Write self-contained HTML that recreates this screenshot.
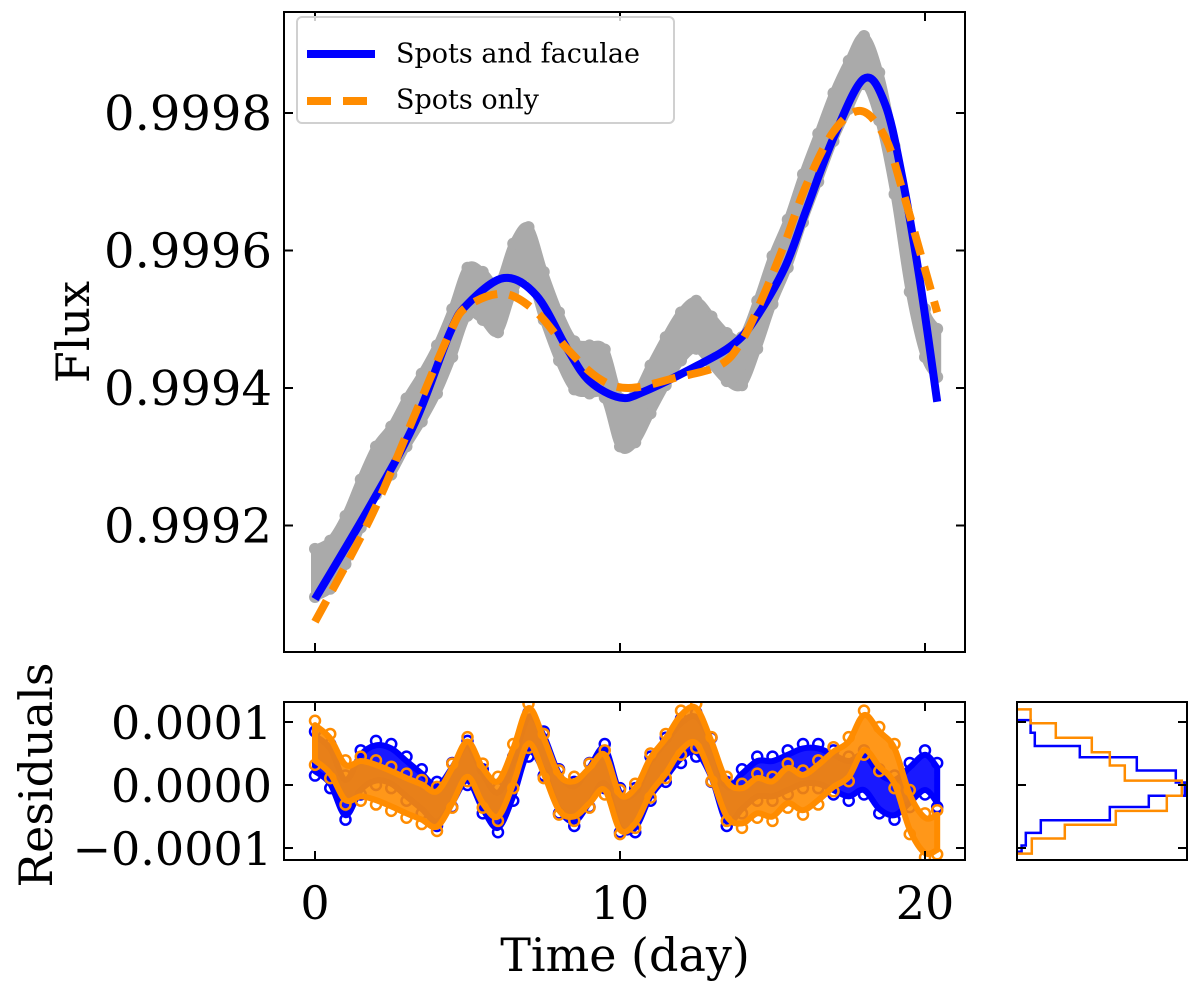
<!DOCTYPE html>
<html><head><meta charset="utf-8"><style>
html,body{margin:0;padding:0;background:#fff;}
svg{display:block;font-family:"DejaVu Serif","Liberation Serif",serif;}
</style></head><body>
<svg id="chart" width="1200" height="982" viewBox="0 0 1200 982" xmlns="http://www.w3.org/2000/svg">
<g id="main"></g>
<g id="resid"></g>
<g id="hist"></g>
</svg>
<script>
// ---------- data ----------
const grayTimes = [0,0.5,1,1.5,2,2.5,3,3.5,4,4.5,5,5.5,6,6.5,7,7.5,8,8.5,9,9.5,10,10.5,11,11.5,12,12.5,13,13.5,14,14.5,15,15.5,16,16.5,17,17.5,18,18.5,19,19.5,20,20.4];
const grayFlux = [0.999131,0.999143,0.999179,0.999232,0.99928,0.999309,0.99935,0.999386,0.999427,0.99948,0.99954,0.999534,0.999516,0.999575,0.999599,0.999534,0.999475,0.999433,0.999427,0.999421,0.99935,0.999356,0.999398,0.999439,0.999475,0.999492,0.999469,0.999445,0.999439,0.999492,0.999557,0.99961,0.999676,0.999735,0.999794,0.999841,0.999877,0.999824,0.999717,0.999575,0.99948,0.999451];
const graySpread = 0.000035;
const blueTimes = [0,1.85,3.28,4.42,5,6.2,7.27,8.27,9,10,10.8,12.55,13.7,14.4,15.4,16.1,17,18,18.7,19.26,19.83,20.4];
const blueFlux = [0.999093,0.999232,0.99935,0.99948,0.999522,0.99956,0.999534,0.999457,0.99941,0.999386,0.999395,0.999433,0.999463,0.999498,0.999575,0.999658,0.999764,0.99985,0.999812,0.999705,0.999557,0.99938];
const orangeTimes = [0,1.85,3.28,4.42,5,6.2,7.27,8.27,9.27,10.27,11.84,13.27,14,14.7,15.4,16.1,17,17.9,18.7,19.26,19.83,20.4];
const orangeFlux = [0.99906,0.999214,0.999362,0.99948,0.999519,0.999537,0.99951,0.999457,0.999415,0.9994,0.999415,0.999433,0.999469,0.999534,0.99961,0.999694,0.999773,0.999803,0.999764,0.999688,0.999599,0.99951];
const residTimes = grayTimes;
const residOrange = [0.67,0.46,0.04,0.1,0.04,-0.06,-0.17,-0.27,-0.38,-0.01,0.41,-0.01,-0.22,0.3,0.94,0.46,-0.12,-0.22,-0.01,0.2,-0.43,-0.33,0.15,0.46,0.83,0.94,0.41,-0.22,-0.33,-0.17,-0.22,-0.01,-0.12,0.04,0.25,0.41,0.83,0.57,0.3,-0.43,-0.8,-0.75]; // x1e-4
const residBlue = [0.5,0.3,-0.2,0.2,0.35,0.3,0.1,-0.1,-0.3,0,0.35,-0.1,-0.4,0.1,0.8,0.5,-0.1,-0.3,0,0.3,-0.4,-0.4,0.1,0.4,0.7,0.8,0.4,-0.3,-0.1,0.1,0.1,0.2,0.3,0.3,0.2,0.1,0.2,-0.1,-0.2,0,0.2,0]; // x1e-4
const residSpread = 0.28;
const histBlueEdges = [1.03,0.83,0.62,0.44,0.23,0.04,-0.17,-0.35,-0.56,-0.76,-0.96,-1.06];
const histBlueCounts = [21,28,103,198,263,278,218,153,38,13,6];
const histOrangeEdges = [1.2,0.98,0.75,0.52,0.31,0.07,-0.17,-0.41,-0.63,-0.85,-1.09];
const histOrangeCounts = [21,63,123,153,178,273,248,163,78,23];
const xTicks = [0,10,20];
const fluxTicks = [0.9998,0.9996,0.9994,0.9992];
const fluxTickLabels = ["0.9998","0.9996","0.9994","0.9992"];
const residTicks = [1,0,-1];
const residTickLabels = ["0.0001","0.0000","\u22120.0001"];

// ---------- scales ----------
const NS="http://www.w3.org/2000/svg";
const xS = t => 315 + t*30.5;
const yF = f => 113 + (0.9998 - f)/0.0002*137.5;
const yR = r => 785 - r*63;
const xH = c => 1018 + c*0.6;
function mk(parent, tag, attrs){const e=document.createElementNS(NS,tag);for(const k in attrs)e.setAttribute(k,attrs[k]);parent.appendChild(e);return e;}
function smooth(pts){let d=`M${pts[0][0]},${pts[0][1]}`;for(let i=0;i<pts.length-1;i++){const p0=pts[i-1]||pts[i],p1=pts[i],p2=pts[i+1],p3=pts[i+2]||p2;const c1=[p1[0]+(p2[0]-p0[0])/6,p1[1]+(p2[1]-p0[1])/6],c2=[p2[0]-(p3[0]-p1[0])/6,p2[1]-(p3[1]-p1[1])/6];d+=`C${c1[0]},${c1[1]} ${c2[0]},${c2[1]} ${p2[0]},${p2[1]}`;}return d;}

const main=document.getElementById('main'), resid=document.getElementById('resid'), hist=document.getElementById('hist');

// gray data band
let up=grayTimes.map((t,i)=>[xS(t),yF(grayFlux[i]+graySpread)]);
let lo=grayTimes.map((t,i)=>[xS(t),yF(grayFlux[i]-graySpread)]).reverse();
const band=mk(main,'path',{d:smooth(up)+'L'+smooth(lo).slice(1)+'Z',fill:'#aaaaaa',stroke:'#aaaaaa','stroke-width':8,'stroke-linejoin':'round'});


grayTimes.forEach((t,i)=>{
  [graySpread,-graySpread].forEach(s=>{
    const c=mk(main,'circle',{cx:xS(t),cy:yF(grayFlux[i]+s),r:6,fill:'#aaaaaa'});
    
    
  });
});
const bl=mk(main,'path',{d:smooth(blueTimes.map((t,i)=>[xS(t),yF(blueFlux[i])])),fill:'none',stroke:'#0000ff','stroke-width':8});


const ol=mk(main,'path',{d:smooth(orangeTimes.map((t,i)=>[xS(t),yF(orangeFlux[i])])),fill:'none',stroke:'#ff8c00','stroke-width':8,'stroke-dasharray':'24 12'});



// axes frames & ticks
function frame(g,x0,y0,x1,y1,name){const r=mk(g,'rect',{x:x0,y:y0,width:x1-x0,height:y1-y0,fill:'none',stroke:'#000','stroke-width':2});}
function text(g,x,y,s,size,anchor,name,extra){const t=mk(g,'text',Object.assign({x:x,y:y,'font-size':size,'text-anchor':anchor,'dominant-baseline':'central',fill:'#000'},extra||{}));t.textContent=s;return t;}
function ticksY(g,vals,f,x0,x1){vals.forEach(v=>{const y=f(v);mk(g,'line',{x1:x0,y1:y,x2:x0+9,y2:y,stroke:'#000','stroke-width':2});mk(g,'line',{x1:x1,y1:y,x2:x1-9,y2:y,stroke:'#000','stroke-width':2});});}
function ticksX(g,y0,y1){xTicks.forEach(v=>{const x=xS(v);mk(g,'line',{x1:x,y1:y0,x2:x,y2:y0+9,stroke:'#000','stroke-width':2});mk(g,'line',{x1:x,y1:y1,x2:x,y2:y1-9,stroke:'#000','stroke-width':2});});}

frame(main,284,12,965,652,'flux-axes-frame');
ticksY(main,fluxTicks,yF,284,965);ticksX(main,12,652);
fluxTicks.forEach((v,i)=>text(main,272,yF(v)+1,fluxTickLabels[i],48,'end','flux-tick-label'));
text(main,73,332,'Flux',46,'middle','flux-axis-title',{transform:'rotate(-90 73 332)'});

// legend
const lg=mk(main,'g',{});


mk(lg,'rect',{x:297,y:17,width:377,height:106,rx:5,fill:'#fff','fill-opacity':0.8,stroke:'#d0d0d0','stroke-width':2});
mk(lg,'line',{x1:307,y1:54,x2:375,y2:54,stroke:'#0000ff','stroke-width':8});
mk(lg,'line',{x1:307,y1:101,x2:375,y2:101,stroke:'#ff8c00','stroke-width':8,'stroke-dasharray':'24 12'});
text(lg,396,54,'Spots and faculae',27,'start','legend-entry-spots-faculae');
text(lg,396,100,'Spots only',27,'start','legend-entry-spots-only');

// residuals
const clipR=mk(resid,'clipPath',{id:'cr'});mk(clipR,'rect',{x:284,y:702,width:681,height:158});
const rg=mk(resid,'g',{'clip-path':'url(#cr)'});
[[residBlue,'#0000ff','blue'],[residOrange,'#ff8c00','orange']].forEach(([arr,col,nm])=>{
  const up=residTimes.map((t,i)=>[xS(t),yR(arr[i]+residSpread)]);
  const lo=residTimes.map((t,i)=>[xS(t),yR(arr[i]-residSpread)]).reverse();
  const p=mk(rg,'path',{d:smooth(up)+'L'+smooth(lo).slice(1)+'Z',fill:col,'fill-opacity':0.9,stroke:col,'stroke-width':6,'stroke-linejoin':'round'});
  
  
  residTimes.forEach((t,i)=>{[residSpread*1.25,-residSpread*1.25].forEach(s=>{
    const c=mk(rg,'circle',{cx:xS(t),cy:yR(arr[i]+s),r:5,fill:'none',stroke:col,'stroke-width':2.5});
    
    
  });});
});
frame(resid,284,702,965,860,'residuals-axes-frame');
ticksY(resid,residTicks,yR,284,965);ticksX(resid,702,860);
residTicks.forEach((v,i)=>text(resid,272,yR(v)+1,residTickLabels[i],46,'end','residual-tick-label'));
xTicks.forEach(v=>text(resid,xS(v),903,String(v),46,'middle','time-tick-label'));
text(resid,625,955,'Time (day)',46,'middle','time-axis-title');
text(resid,36,775,'Residuals',46,'middle','residuals-axis-title',{transform:'rotate(-90 36 775)'});

// histogram
function stepPath(edges,counts){let d=`M${xH(0)},${yR(edges[0])}`;counts.forEach((c,i)=>{d+=`L${xH(c)},${yR(edges[i])}L${xH(c)},${yR(edges[i+1])}`;});d+=`L${xH(0)},${yR(edges[edges.length-1])}`;return d;}
const hb=mk(hist,'path',{d:stepPath(histBlueEdges,histBlueCounts),fill:'none',stroke:'#0000ff','stroke-width':2.5});


const ho=mk(hist,'path',{d:stepPath(histOrangeEdges,histOrangeCounts),fill:'none',stroke:'#ff8c00','stroke-width':2.5});


frame(hist,1017,702,1187,860,'histogram-axes-frame');
ticksY(hist,residTicks,yR,1017,1187);
</script>
</body></html>
